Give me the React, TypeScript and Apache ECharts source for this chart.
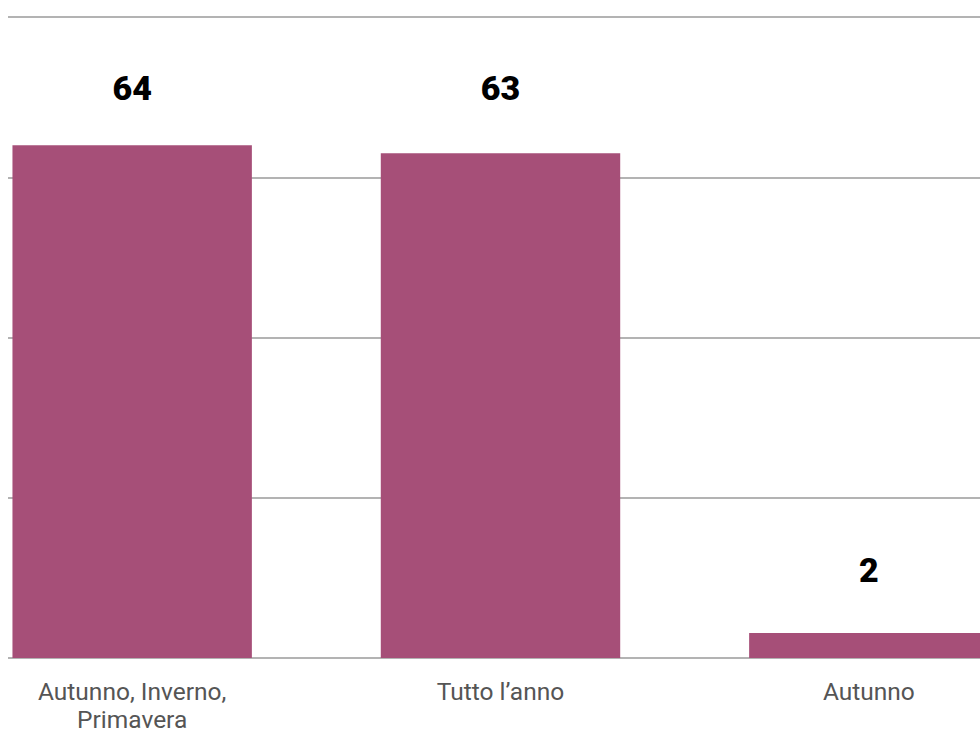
import React, { useEffect, useRef } from "react";
import * as echarts from "echarts";

const categories = ["Autunno, Inverno,\nPrimavera", "Tutto l’anno", "Autunno"];
const values = [64, 63, 2];
const labelDistances = [40, 48, 46];
const yMax = 80;
const yInterval = 20;

export default function App() {
  const ref = useRef<HTMLDivElement>(null);
  useEffect(() => {
    document.body.style.overflow = "hidden";
    const chart = echarts.init(ref.current!, null, { renderer: "svg" });
    chart.setOption({
      animation: false,
      backgroundColor: "#ffffff",
      grid: {
        left: -60,
        right: -73,
        top: 17,
        bottom: 76,
        containLabel: false,
        outerBoundsMode: "none",
      },
      xAxis: {
        type: "category",
        data: categories,
        axisLine: { show: true, lineStyle: { color: "#b3b3b3", width: 2 } },
        axisTick: { show: false },
        axisLabel: {
          color: "#555555",
          fontFamily: "Roboto",
          fontSize: 24.5,
          lineHeight: 28,
          margin: 19,
          interval: 0,
        },
      },
      yAxis: {
        type: "value",
        min: 0,
        max: yMax,
        interval: yInterval,
        axisLine: { show: false },
        axisTick: { show: false },
        axisLabel: { show: false },
        splitLine: { lineStyle: { color: "#b3b3b3", width: 2 } },
      },
      series: [
        {
          type: "bar",
          data: values.map((v, i) => ({
            value: v,
            label: { distance: labelDistances[i] },
          })),
          barWidth: "65%",
          barMinHeight: 25,
          itemStyle: { color: "#a64f78" },
          label: {
            show: true,
            position: "top",
            color: "#000000",
            fontFamily: "Roboto",
            fontWeight: 900,
            fontSize: 34,
          },
        },
      ],
    });
    return () => chart.dispose();
  }, []);
  return (
    <div
      ref={ref}
      style={{ position: "absolute", left: 8, top: 0, width: 972, height: 734 }}
    />
  );
}
